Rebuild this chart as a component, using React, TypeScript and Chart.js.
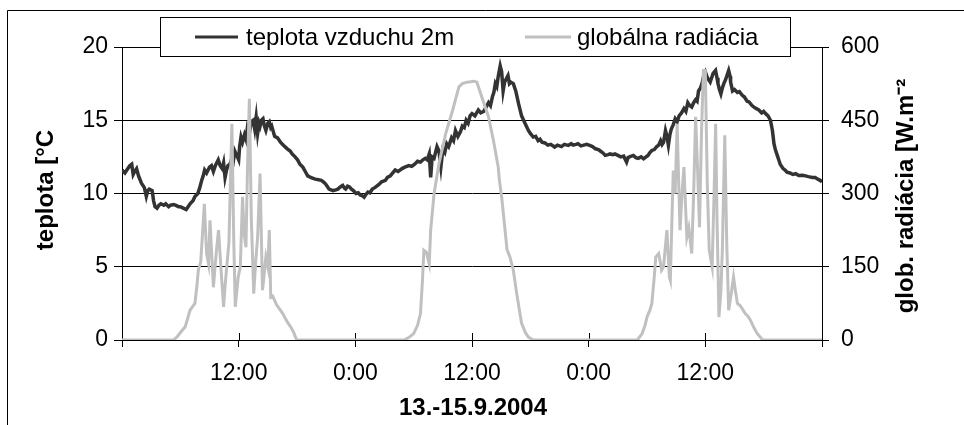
import { useEffect, useRef } from 'react';
import Chart from 'chart.js/auto';

// hours since 13.9.2004 0:00
const tempHours = [
  0.0, 0.3, 0.5, 0.8, 1.0, 1.15, 1.3, 1.5, 1.7, 2.0,
  2.3, 2.5, 2.65, 2.8, 3.1, 3.25, 3.4, 3.6, 3.8, 4.0,
  4.3, 4.5, 4.8, 5.0, 5.3, 5.5, 5.8, 6.0, 6.3, 6.6,
  6.8, 7.0, 7.3, 7.5, 7.8, 8.0, 8.2, 8.35, 8.5, 8.7,
  9.0, 9.2, 9.4, 9.6, 9.9, 10.1, 10.3, 10.45, 10.6, 10.75,
  10.9, 11.1, 11.3, 11.45, 11.6, 11.8, 12.0, 12.1, 12.24, 12.4,
  12.6, 12.75, 12.9, 13.1, 13.3, 13.5, 13.65, 13.8, 13.95, 14.1,
  14.2, 14.35, 14.5, 14.65, 14.8, 15.0, 15.15, 15.3, 15.4, 15.7,
  16.0, 16.3, 16.6, 17.0, 17.3, 17.5, 17.8, 18.06, 18.3, 18.6,
  18.85, 19.1, 19.4, 19.8, 20.1, 20.5, 20.8, 21.0, 21.3, 21.7,
  22.0, 22.2, 22.45, 22.7, 22.9, 23.0, 23.2, 23.4, 23.6, 23.8,
  24.07, 24.3, 24.5, 24.7, 24.9, 25.1, 25.3, 25.5, 25.75, 26.0,
  26.4, 26.7, 27.1, 27.3, 27.6, 27.85, 28.1, 28.4, 28.8, 29.1,
  29.5, 29.8, 30.1, 30.4, 30.7, 30.95, 31.2, 31.4, 31.6, 31.75,
  31.9, 32.1, 32.4, 32.6, 32.8, 33.0, 33.2, 33.4, 33.6, 33.9,
  34.1, 34.3, 34.55, 34.8, 35.0, 35.2, 35.4, 35.6, 35.8, 36.0,
  36.3, 36.65, 36.9, 37.2, 37.45, 37.7, 37.9, 38.1, 38.25, 38.4,
  38.55, 38.7, 38.9, 39.05, 39.2, 39.35, 39.5, 39.7, 39.85, 40.0,
  40.25, 40.5, 40.8, 41.1, 41.45, 41.8, 42.0, 42.3, 42.55, 42.8,
  43.0, 43.2, 43.5, 43.8, 44.1, 44.5, 44.8, 45.2, 45.5, 45.9,
  46.2, 46.4, 46.7, 46.9, 47.2, 47.5, 47.8, 48.1, 48.4, 48.7,
  49.0, 49.2, 49.5, 49.7, 50.0, 50.2, 50.5, 50.7, 51.0, 51.3,
  51.6, 51.9, 52.05, 52.2, 52.4, 52.6, 52.85, 53.1, 53.4, 53.65,
  53.9, 54.1, 54.3, 54.5, 54.75, 55.0, 55.2, 55.4, 55.55, 55.7,
  55.9, 56.05, 56.2, 56.35, 56.5, 56.7, 56.9, 57.1, 57.3, 57.55,
  57.8, 58.0, 58.2, 58.4, 58.6, 58.8, 59.0, 59.15, 59.3, 59.5,
  59.7, 59.85, 60.0, 60.15, 60.3, 60.5, 60.65, 60.8, 61.05, 61.2,
  61.3, 61.45, 61.6, 61.75, 61.9, 62.1, 62.25, 62.4, 62.55, 62.6,
  62.8, 63.0, 63.3, 63.5, 63.8, 64.0, 64.3, 64.5, 64.8, 65.1,
  65.5, 65.8, 66.0, 66.2, 66.45, 66.7, 66.9, 67.06, 67.2, 67.4,
  67.55, 67.7, 68.0, 68.2, 68.4, 68.7, 69.0, 69.3, 69.6, 70.0,
  70.3, 70.6, 71.0, 71.3, 71.5, 71.8, 72.0,
];
const tempValues = [
  11.6, 11.4, 11.6, 11.9, 12.0, 11.3, 11.5, 11.7, 11.2, 10.7,
  10.4, 9.8, 10.2, 10.3, 10.2, 9.5, 9.1, 9.0, 9.2, 9.3,
  9.2, 9.3, 9.1, 9.2, 9.25, 9.2, 9.1, 9.1, 9.0, 8.9,
  9.1, 9.3, 9.5, 9.8, 10.0, 10.4, 10.9, 11.2, 11.6, 11.4,
  11.8, 11.9, 11.5, 11.9, 12.3, 11.9, 11.7, 12.1, 11.1, 11.6,
  11.9, 12.0, 12.4, 12.2, 12.9, 12.6, 12.3, 13.2, 13.85, 13.5,
  14.0, 13.7, 14.5, 14.1, 14.9, 15.0, 14.4, 15.2, 14.1, 14.8,
  14.6, 15.0, 15.1, 14.6, 14.3, 14.8, 14.9, 14.5, 14.6, 13.9,
  13.8, 13.5, 13.3, 13.05, 12.9, 12.7, 12.5, 12.3, 12.0, 11.8,
  11.5, 11.2, 11.1, 11.0, 10.95, 10.9, 10.75, 10.6, 10.3, 10.2,
  10.25, 10.3, 10.45, 10.55, 10.35, 10.3, 10.5, 10.45, 10.3, 10.2,
  10.0, 10.05, 9.9, 9.85, 9.75, 9.95, 10.1, 10.05, 10.3, 10.4,
  10.6, 10.8, 10.9, 11.1, 11.2, 11.4, 11.6, 11.5, 11.7, 11.8,
  11.9, 11.85, 12.0, 12.2, 12.14, 12.3, 12.4, 12.3, 12.7, 11.1,
  12.5, 12.4, 13.2, 12.9, 11.8, 13.0, 12.8, 13.4, 13.2, 13.8,
  13.6, 14.3, 13.9, 14.2, 14.6, 14.5, 15.0, 14.8, 15.3, 15.45,
  15.3, 15.7, 15.5, 15.6, 15.9, 16.2, 16.0, 16.6, 16.9, 17.5,
  17.3, 18.0, 18.7, 18.3, 17.0, 17.6, 17.8, 18.05, 17.5, 17.6,
  17.5, 17.0, 16.1, 15.3, 14.8, 14.3, 14.1, 13.85, 13.9, 13.6,
  13.7, 13.5, 13.45, 13.3, 13.35, 13.17, 13.3, 13.2, 13.35, 13.28,
  13.4, 13.3, 13.35, 13.4, 13.25, 13.3, 13.35, 13.28, 13.2, 13.05,
  13.0, 12.9, 12.75, 12.6, 12.65, 12.7, 12.65, 12.7, 12.6, 12.5,
  12.55, 12.14, 12.45, 12.5, 12.55, 12.6, 12.45, 12.4, 12.5, 12.37,
  12.5, 12.6, 12.8, 12.94, 13.0, 13.2, 13.3, 13.6, 13.35, 13.5,
  14.3, 13.9, 13.3, 14.0, 14.4, 14.7, 15.1, 14.9, 15.3, 15.5,
  15.8, 15.6, 16.2, 16.0, 15.9, 16.2, 16.4, 16.3, 17.0, 17.2,
  17.6, 18.1, 18.3, 18.0, 17.8, 17.6, 17.9, 18.2, 18.4, 17.9,
  17.5, 17.1, 16.8, 17.2, 17.5, 17.8, 18.1, 18.4, 18.0, 17.6,
  17.0, 17.1, 16.9, 16.95, 16.7, 16.6, 16.3, 16.25, 16.0, 15.85,
  15.7, 15.5, 15.6, 15.45, 15.3, 15.0, 14.3, 13.4, 13.0, 12.6,
  12.3, 12.0, 11.7, 11.6, 11.46, 11.4, 11.3, 11.35, 11.23, 11.25,
  11.2, 11.15, 11.1, 11.1, 11.0, 10.9, 10.8,
];

const radHours = [0,5.3,5.65,5.8,6.2,6.5,7.0,7.5,7.7,7.85,8.1,8.47,8.7,8.9,9.05,9.4,9.7,9.93,10.2,10.45,10.6,10.8,11.0,11.3,11.5,11.65,11.95,12.17,12.4,12.55,12.75,12.9,13.1,13.3,13.55,13.75,13.95,14.2,14.45,14.6,14.8,15.0,15.15,15.3,15.5,15.9,16.5,17.0,17.4,17.65,17.9,18.0,29.0,29.5,30.0,30.4,30.7,30.9,31.05,31.3,31.6,31.75,32.1,32.6,33.3,34.0,34.65,35.0,35.5,36.2,36.5,37.0,37.7,38.2,38.7,38.8,39.05,39.4,39.6,39.9,40.25,40.6,41.1,41.5,41.8,42.3,53.0,53.5,53.8,54.0,54.3,54.5,54.75,54.9,55.2,55.4,55.5,55.7,56.05,56.3,56.4,56.7,56.9,57.1,57.25,57.4,57.6,57.8,57.95,58.1,58.3,58.6,58.8,59.0,59.2,59.4,59.6,59.8,60.0,60.2,60.4,60.7,60.9,61.06,61.2,61.4,61.6,61.75,62.0,62.2,62.4,62.7,62.9,63.1,63.3,63.6,63.8,64.1,64.4,64.65,65.0,65.35,65.9,72];
const radValues = [0,0,6,10,20,27,61,75,110,143,160,279,177,156,245,108,180,225,140,68,110,156,200,443,200,68,129,150,293,220,190,344,494,250,95,160,211,341,102,130,170,150,225,88,90,72,55,37,25,16,3,0,0,5,13,30,54,120,184,180,156,225,300,361,423,470,518,525,528,530,528,498,457,409,354,330,293,225,185,170,143,95,34,15,6,0,0,13,30,47,61,75,130,170,177,156,143,150,225,129,122,347,300,443,330,225,300,354,280,211,230,177,300,457,350,231,420,552,552,320,184,150,300,443,250,47,100,184,419,200,61,100,129,100,75,70,64,54,48,40,25,13,0,0];

const xTickHours = [0, 12, 24, 36, 48, 60, 72];
const xTickLabels = ['', '12:00', '0:00', '12:00', '0:00', '12:00', ''];
const tempTicks = [0, 5, 10, 15, 20];
const radTicks = [0, 150, 300, 450, 600];

const seriesLabels = ['teplota vzduchu 2m', 'globálna radiácia'];
const xTitle = '13.-15.9.2004';
const yTitle = 'teplota [°C';
const y1Title = 'glob. radiácia [W.m⁻²';

const FONT = '"Liberation Sans", Arial, sans-serif';

const decorPlugin = {
  id: 'decor',
  beforeDatasetsDraw(chart: any) {
    const ctx = chart.ctx;
    const xs = chart.scales.x;
    const bottom = chart.chartArea.bottom;
    ctx.save();
    ctx.strokeStyle = '#000';
    ctx.lineWidth = 1;
    xTickHours.forEach((h, i) => {
      if (i === 0 || i === xTickHours.length - 1) return;
      const px = Math.round(xs.getPixelForValue(h)) + 0.5;
      ctx.beginPath();
      ctx.moveTo(px, bottom - 7);
      ctx.lineTo(px, bottom);
      ctx.stroke();
    });
    ctx.restore();
  },
  afterDraw(chart: any) {
    const ctx = chart.ctx;
    ctx.save();
    ctx.strokeStyle = '#000';
    ctx.lineWidth = 1;
    ctx.beginPath();
    ctx.moveTo(7.5, 425);
    ctx.lineTo(7.5, 10.5);
    ctx.lineTo(964, 10.5);
    ctx.stroke();

    ctx.fillStyle = '#000';
    ctx.font = `bold 24px ${FONT}`;
    ctx.textAlign = 'center';
    ctx.textBaseline = 'middle';
    ctx.fillText(xTitle, 473, 408);
    ctx.save();
    ctx.translate(46, 190);
    ctx.rotate(-Math.PI / 2);
    ctx.fillText(yTitle, 0, 0);
    ctx.restore();
    ctx.save();
    ctx.translate(906, 196);
    ctx.rotate(-Math.PI / 2);
    ctx.fillText(y1Title, 0, 0);
    ctx.restore();

    ctx.fillStyle = '#fff';
    ctx.fillRect(160.5, 17.5, 630, 39);
    ctx.strokeStyle = '#000';
    ctx.strokeRect(160.5, 17.5, 630, 39);
    const ds = chart.data.datasets;
    const items = [
      { x0: 195, x1: 238, tx: 246 },
      { x0: 525, x1: 571, tx: 577 },
    ];
    ctx.font = `24px ${FONT}`;
    ctx.textAlign = 'left';
    ctx.textBaseline = 'middle';
    items.forEach((it, i) => {
      ctx.strokeStyle = ds[i].borderColor;
      ctx.lineWidth = 3;
      ctx.beginPath();
      ctx.moveTo(it.x0, 37);
      ctx.lineTo(it.x1, 37);
      ctx.stroke();
      ctx.fillStyle = '#000';
      ctx.fillText(ds[i].label, it.tx, 38);
    });
    ctx.restore();
  },
};

export default function App() {
  const ref = useRef<HTMLCanvasElement>(null);
  useEffect(() => {
    document.body.style.margin = '0';
    const chart = new Chart(ref.current!, {
      type: 'line',
      data: {
        datasets: [
          {
            label: seriesLabels[0],
            data: tempHours.map((h, i) => ({ x: h, y: tempValues[i] })),
            borderColor: '#333333',
            borderWidth: 3.5,
            pointRadius: 0,
            tension: 0,
            yAxisID: 'y',
            order: 2,
          },
          {
            label: seriesLabels[1],
            data: radHours.map((h, i) => ({ x: h, y: radValues[i] })),
            borderColor: '#c0c0c0',
            borderWidth: 3,
            pointRadius: 0,
            tension: 0,
            yAxisID: 'y1',
            order: 1,
          },
        ],
      },
      options: {
        animation: false,
        responsive: false,
        layout: { padding: { top: 47, left: 0, right: 0, bottom: 0 } },
        plugins: { legend: { display: false }, tooltip: { enabled: false } },
        scales: {
          x: {
            type: 'linear',
            min: 0,
            max: 72,
            afterBuildTicks: (s: any) => {
              s.ticks = xTickHours.map((v) => ({ value: v }));
            },
            afterFit: (s: any) => {
              s.height = 85;
            },
            ticks: {
              autoSkip: false,
              maxRotation: 0,
              color: '#000',
              font: { family: FONT, size: 23 },
              padding: 13,
              callback: (v: any) => xTickLabels[xTickHours.indexOf(Number(v))] ?? '',
            },
            grid: { drawOnChartArea: false, drawTicks: true, tickLength: 7, color: '#000' },
            border: { display: true, color: '#000', width: 1 },
          },
          y: {
            position: 'left',
            min: 0,
            max: 20,
            afterBuildTicks: (s: any) => {
              s.ticks = tempTicks.map((v) => ({ value: v }));
            },
            afterFit: (s: any) => {
              s.width = 122;
            },
            ticks: { color: '#000', font: { family: FONT, size: 23 }, padding: 6 },
            grid: { color: '#000', tickLength: 8 },
            border: { display: true, color: '#000', width: 1 },
          },
          y1: {
            position: 'right',
            min: 0,
            max: 600,
            afterBuildTicks: (s: any) => {
              s.ticks = radTicks.map((v) => ({ value: v }));
            },
            afterFit: (s: any) => {
              s.width = 142;
            },
            ticks: { color: '#000', font: { family: FONT, size: 23 }, padding: 12 },
            grid: { drawOnChartArea: false, color: '#000', tickLength: 7 },
            border: { display: true, color: '#000', width: 1 },
          },
        },
      },
      plugins: [decorPlugin],
    });
    return () => chart.destroy();
  }, []);
  return (
    <div style={{ width: 964, height: 425 }}>
      <canvas ref={ref} width={964} height={425} />
    </div>
  );
}
